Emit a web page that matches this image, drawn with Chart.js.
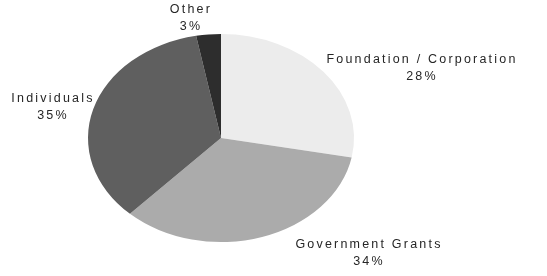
<!DOCTYPE html>
<html>
<head>
<meta charset="utf-8">
<script src="https://cdn.jsdelivr.net/npm/chart.js@4/dist/chart.umd.min.js"></script>
<style>
  html, body { margin: 0; padding: 0; background: #fff; }
  #wrap { width: 547px; height: 276px; }
</style>
</head>
<body>
<div id="wrap"><canvas id="pieChart"></canvas></div>
<script>
const categories = ["Foundation / Corporation", "Government Grants", "Individuals", "Other"];
const shares = [28, 34, 35, 3];
const sliceColors = ["#ececec", "#ababab", "#5f5f5f", "#2d2d2d"];

// label anchor (centre of the first line) for each slice, in page pixels
const labelSpots = [[421, 60], [368, 245], [52, 99], [190, 10]];
const squash = 104 / 133; // pie is drawn as a flattened ellipse

const ellipsePlugin = {
  id: "ellipse",
  beforeDatasetsDraw(chart) {
    const arc = chart.getDatasetMeta(0).data[0];
    const ctx = chart.ctx;
    ctx.save();
    ctx.translate(0, arc.y);
    ctx.scale(1, squash);
    ctx.translate(0, -arc.y);
  },
  afterDatasetsDraw(chart) {
    chart.ctx.restore();
  }
};

const labelPlugin = {
  id: "sliceLabels",
  afterDraw(chart) {
    const ctx = chart.ctx;
    ctx.save();
    ctx.fillStyle = "#262626";
    ctx.font = "12.5px 'Liberation Sans', Arial, sans-serif";
    ctx.letterSpacing = "2.2px";
    ctx.textAlign = "center";
    ctx.textBaseline = "middle";
    categories.forEach((name, i) => {
      const [x, y] = labelSpots[i];
      ctx.fillText(name, x + 1, y);
      ctx.fillText(shares[i] + "%", x + 1, y + 17);
    });
    ctx.restore();
  }
};

new Chart(document.getElementById("pieChart"), {
  type: "pie",
  data: {
    labels: categories,
    datasets: [{
      data: shares,
      backgroundColor: sliceColors,
      borderWidth: 0
    }]
  },
  options: {
    responsive: true,
    maintainAspectRatio: false,
    animation: false,
    layout: { padding: { left: 88, right: 193, top: 5, bottom: 5 } },
    plugins: {
      legend: { display: false },
      tooltip: { enabled: false }
    }
  },
  plugins: [ellipsePlugin, labelPlugin]
});
</script>
</body>
</html>
